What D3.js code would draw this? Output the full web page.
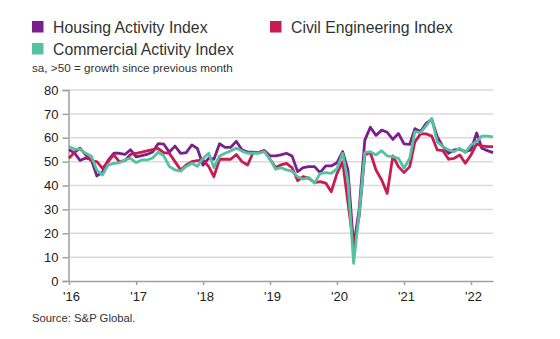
<!DOCTYPE html>
<html><head><meta charset="utf-8">
<script src="https://cdn.jsdelivr.net/npm/d3@7"></script>
<style>
html,body{margin:0;padding:0;background:#fff;}
svg{display:block;}
</style></head>
<body>
<svg id="chart" width="560" height="339"></svg>
<script>
const startMonth = "2016-01";
const seriesNames = ["Housing Activity Index", "Civil Engineering Index", "Commercial Activity Index"];
const housing = [55,53.5,50.5,51.5,51,44,45.5,50.5,53.5,53.5,53,55,52,52.5,53,54,57.5,57.3,54,56.5,53.5,53.8,57,55.5,48.5,51.5,51,57.5,56,56,58.5,55,54,54,53.8,54.6,52.4,52.4,52.8,53.5,52.4,45.8,47.5,47.9,47.9,45.4,48.2,48.2,49.5,54.2,46.5,14.4,30,59,64.4,61,63.2,62.3,59.3,61.8,57.4,57.2,63.8,62.6,66,67.7,60.4,56.3,53.5,54.9,55.2,54.2,54.9,62,55.6,54.6,53.8];
const commercial = [56.3,55.2,55.2,53.5,52.4,46.5,44.4,48.6,49.3,49.5,50.7,51.4,49.6,50.7,50.7,51.5,54,52.4,48,46.5,46,48,49.3,48,51.4,53.5,47.5,52.4,53.5,54.5,55.6,54.4,53.5,53.5,53.5,54.2,51,46.8,47.5,46.5,46,43.7,42.6,43.4,41,45,45.4,45.1,47,53.5,42,7.4,28,53.8,54.2,52.8,54.6,52.4,52.1,51.4,47.2,51.4,62.6,62.1,65,68.1,58.3,56.3,54.9,54.2,55.6,53.8,57,58.4,60.7,60.7,60.4];
const civil = [51.4,54,55.6,52.8,50.3,50,47.2,50,52.8,50,50.4,53,53.5,54,54.5,55,55.5,53.8,53.5,50,46.5,48.6,50,50.4,50.7,47.9,43.7,51,51,51,53,50,48.6,53.8,53.8,54.6,51,47.5,48.6,49.3,47.5,42,43.7,43,41.2,41.6,41,37.4,45,50,33,14.6,27,52.8,53.8,46.5,42.3,36.7,52.4,47.9,45.4,47.9,58.3,61.6,61.6,60.7,54.9,54.6,51,51.4,52.8,49.3,52.8,57.4,56.6,56.3,56.3];
const yTicks = [0,10,20,30,40,50,60,70,80];
const xTickYears = [2016,2017,2018,2019,2020,2021,2022];
const colors = {housing:"#7a1f8b", civil:"#c81b52", commercial:"#52c2a1"};

const svg = d3.select("#chart");
const parse = d3.timeParse("%Y-%m");
const start = parse(startMonth);
const dates = housing.map((_, i) => d3.timeMonth.offset(start, i));

const x = d3.scaleTime().domain([dates[0], dates[dates.length-1]]).range([69, 493]);
const y = d3.scaleLinear().domain([0, 80]).range([281, 90]);

// gridlines
svg.append("g").selectAll("line").data(yTicks.filter(d => d > 0)).join("line")
  .attr("x1", x.range()[0]).attr("x2", x.range()[1])
  .attr("y1", d => y(d)).attr("y2", d => y(d))
  .attr("stroke", "#dadada").attr("stroke-width", 1.5);

// y axis
const yAxis = svg.append("g").attr("transform", "translate(68.5,0)")
  .call(d3.axisLeft(y).tickValues(yTicks).tickSize(6).tickPadding(4));
yAxis.select(".domain").attr("stroke", "#a0a0a0").attr("stroke-width", 1.5);
yAxis.selectAll(".tick line").attr("stroke", "#a0a0a0").attr("stroke-width", 1.5);
yAxis.selectAll("text").attr("font-family", "Liberation Sans, Arial, sans-serif")
  .attr("font-size", 13).attr("fill", "#222");

// x axis
const xAxis = svg.append("g").attr("transform", "translate(0,281)")
  .call(d3.axisBottom(x).tickValues(xTickYears.map(yr => new Date(yr, 0, 1)))
    .tickFormat(d => "'" + String(d.getFullYear()).slice(2)).tickSize(4).tickPadding(7).tickSizeOuter(0));
xAxis.select(".domain").attr("stroke", "#a0a0a0").attr("stroke-width", 1.5);
xAxis.selectAll(".tick line").attr("stroke", "#a0a0a0").attr("stroke-width", 1.5);
xAxis.selectAll("text").attr("font-family", "Liberation Sans, Arial, sans-serif")
  .attr("font-size", 13).attr("fill", "#222").attr("dx", 2);

// lines
const line = d3.line().x((d, i) => x(dates[i])).y(d => y(d));
[[housing, colors.housing], [civil, colors.civil], [commercial, colors.commercial]].forEach(([data, c]) => {
  svg.append("path").datum(data).attr("d", line)
    .attr("fill", "none").attr("stroke", c).attr("stroke-width", 2.8)
    .attr("stroke-linejoin", "round");
});

// legend
const legend = [
  {name: seriesNames[0], color: colors.housing, x: 32, y: 21},
  {name: seriesNames[1], color: colors.civil, x: 270, y: 21},
  {name: seriesNames[2], color: colors.commercial, x: 32, y: 43}
];
const lg = svg.append("g");
lg.selectAll("rect").data(legend).join("rect")
  .attr("x", d => d.x).attr("y", d => d.y).attr("width", 11.5).attr("height", 11.5)
  .attr("fill", d => d.color);
lg.selectAll("text").data(legend).join("text")
  .attr("x", d => d.x + 21).attr("y", d => d.y + 11.5)
  .attr("font-family", "Liberation Sans, Arial, sans-serif").attr("font-size", 15.8)
  .attr("fill", "#333").text(d => d.name);

svg.append("text").attr("x", 32).attr("y", 72)
  .attr("font-family", "Liberation Sans, Arial, sans-serif").attr("font-size", 11.7)
  .attr("fill", "#333").text("sa, >50 = growth since previous month");

svg.append("text").attr("x", 32).attr("y", 322)
  .attr("font-family", "Liberation Sans, Arial, sans-serif").attr("font-size", 11.3)
  .attr("fill", "#333").text("Source: S&P Global.");
</script>
</body></html>
